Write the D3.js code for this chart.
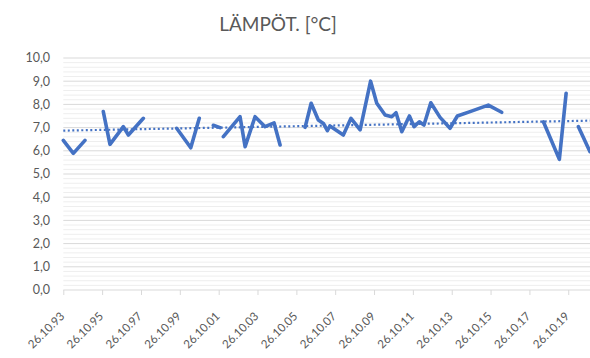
<!DOCTYPE html>
<html>
<head>
<meta charset="utf-8">
<script src="https://cdn.jsdelivr.net/npm/d3@7"></script>
<style>
  html, body { margin: 0; padding: 0; background: #fff; }
  svg { display: block; }
  text { font-family: Lato, "Open Sans", sans-serif; fill: #595959; }
</style>
</head>
<body>
<svg id="chart" width="590" height="358"></svg>
<script>
// ---- data ----
const title = "LÄMPÖT. [°C]";
const dates = [
  "1993-10-26","1994-05-03","1994-12-08", "1995-05-15",
  "1995-11-17","1996-03-22","1996-11-28","1997-03-03","1997-12-10", "1998-10-01",
  "1999-08-28","2000-05-19","2000-10-26", "2001-03-01",
  "2001-07-17","2001-11-21", "2001-12-20",
  "2002-01-22","2002-12-02","2003-03-07","2003-09-10","2004-03-17","2004-09-02","2004-12-24", "2005-08-01",
  "2006-04-08","2006-07-31","2006-12-13","2007-03-18","2007-06-01","2007-07-20","2008-03-27","2008-08-18",
  "2009-02-06","2009-08-22","2009-12-16","2010-05-22","2010-09-24","2010-12-13","2011-04-01","2011-08-22",
  "2011-11-18","2012-02-24","2012-05-22","2012-09-27","2013-03-20","2013-09-24","2014-02-09","2014-10-05",
  "2015-09-13","2016-05-22", "2017-06-01",
  "2018-07-16","2019-05-12","2019-09-16", "2020-01-15",
  "2020-05-04","2020-12-08"
];
const temps = [
  6.45, 5.89, 6.45, null,
  7.69, 6.28, 7.04, 6.68, 7.40, null,
  6.97, 6.13, 7.40, null,
  7.10, 7.00, null,
  6.61, 7.47, 6.18, 7.47, 7.04, 7.20, 6.25, null,
  7.01, 8.05, 7.33, 7.18, 6.87, 7.07, 6.68, 7.40,
  6.90, 9.00, 8.05, 7.54, 7.47, 7.64, 6.82, 7.50,
  7.04, 7.25, 7.11, 8.07, 7.44, 6.97, 7.50, 7.69,
  7.97, 7.66, null,
  7.25, 5.63, 8.48, null,
  7.04, 5.96
];
// linear trendline, values read at the first and last date of the axis
const trendDates = ["1993-10-26", "2020-12-08"];
const trendValues = [6.87, 7.30];
const yTicks = [0,1,2,3,4,5,6,7,8,9,10];
const xTickYears = [1993,1995,1997,1999,2001,2003,2005,2007,2009,2011,2013,2015,2017,2019];

(function () {
// ---- layout ----
const svg = d3.select("#chart");
const mLeft = 63.3, mRight = 590, mTop = 58, mBottom = 290;
const parse = d3.timeParse("%Y-%m-%d");
const data = dates.map((d,i) => ({date: parse(d), v: temps[i]}));
const trend = trendDates.map((d,i) => ({date: parse(d), v: trendValues[i]}));

const x = d3.scaleTime()
  .domain([parse("1993-10-26"), parse("2020-12-08")])
  .range([mLeft, mRight]);
const y = d3.scaleLinear().domain([0, 10]).range([mBottom, mTop]);

// minor gridlines
const minor = d3.range(0, 10.001, 0.2).filter(v => Math.abs(v - Math.round(v)) > 1e-6);
svg.append("g").selectAll("line").data(minor).join("line")
  .attr("x1", mLeft).attr("x2", mRight)
  .attr("y1", d => y(d)).attr("y2", d => y(d))
  .attr("stroke", "#eeeeee").attr("stroke-width", 1);

// major gridlines
svg.append("g").selectAll("line").data(yTicks.slice(1)).join("line")
  .attr("x1", mLeft).attr("x2", mRight)
  .attr("y1", d => y(d)).attr("y2", d => y(d))
  .attr("stroke", "#d9d9d9").attr("stroke-width", 1);

// y axis labels
const fmt = v => d3.format(".1f")(v).replace(".", ",");
svg.append("g").selectAll("text").data(yTicks).join("text")
  .attr("x", 50).attr("y", d => y(d))
  .attr("dy", "0.35em")
  .attr("text-anchor", "end")
  .style("font-size", "12.5px")
  .text(fmt);

// x axis
const tickDates = xTickYears.map(yr => new Date(yr, 9, 26));
const xAxis = d3.axisBottom(x)
  .tickValues(tickDates)
  .tickSize(5)
  .tickSizeOuter(0)
  .tickFormat(d3.timeFormat("%d.%m.%y"));
const gx = svg.append("g").attr("transform", `translate(0,${mBottom})`).call(xAxis);
gx.select(".domain").attr("stroke", "#d9d9d9").attr("d", `M${mLeft},0H${mRight}`);
gx.selectAll(".tick line").attr("stroke", "#d9d9d9");
gx.selectAll(".tick text")
  .attr("text-anchor", "end")
  .attr("transform", "translate(-1.5,24) rotate(-45)")
  .attr("x", 0).attr("y", 0).attr("dy", "0.35em")
  .style("font-size", "11.6px")
  .style("fill", "#595959")
  .style("font-family", "Lato, 'Open Sans', sans-serif");

// clip
svg.append("clipPath").attr("id", "clip").append("rect")
  .attr("x", mLeft - 5).attr("y", 0).attr("width", mRight - mLeft + 5).attr("height", 358);

// trendline
const lineGen = d3.line()
  .defined(d => d.v != null)
  .x(d => x(d.date)).y(d => y(d.v));
svg.append("path").datum(trend)
  .attr("clip-path", "url(#clip)")
  .attr("d", lineGen)
  .attr("fill", "none")
  .attr("stroke", "#4472C4").attr("stroke-width", 2.2)
  .attr("stroke-dasharray", "2,2.5");

// data line
svg.append("path").datum(data)
  .attr("clip-path", "url(#clip)")
  .attr("d", lineGen)
  .attr("fill", "none")
  .attr("stroke", "#4472C4")
  .attr("stroke-width", 3.6)
  .attr("stroke-linejoin", "round")
  .attr("stroke-linecap", "round");

// title
svg.append("text")
  .attr("x", 278).attr("y", 31)
  .attr("text-anchor", "middle")
  .style("font-size", "19px")
  .text(title);
})();
</script>
</body>
</html>
